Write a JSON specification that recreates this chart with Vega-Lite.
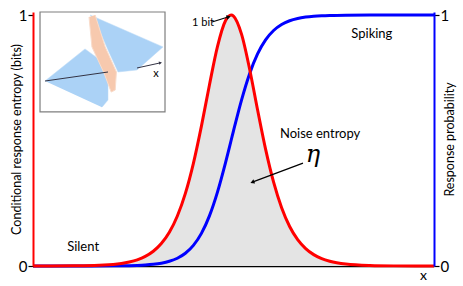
{
  "$schema": "https://vega.github.io/schema/vega-lite/v6.json",
  "width": 401,
  "height": 254,
  "autosize": {"type": "none"},
  "padding": {"left": 33, "top": 12, "right": 29, "bottom": 20},
  "background": "white",
  "config": {"view": {"stroke": null}, "font": "Lato"},
  "datasets": {
    "curves": [
      {"x": 0, "p": 0, "h": 0},
      {"x": 1, "p": 0.00004, "h": 0.0006},
      {"x": 2, "p": 0.00052, "h": 0.0064},
      {"x": 2.4, "p": 0.00146, "h": 0.0159},
      {"x": 2.6, "p": 0.00244, "h": 0.0247},
      {"x": 2.8, "p": 0.00407, "h": 0.0382},
      {"x": 3.0, "p": 0.00679, "h": 0.0587},
      {"x": 3.2, "p": 0.01129, "h": 0.0894},
      {"x": 3.4, "p": 0.01876, "h": 0.1344},
      {"x": 3.6, "p": 0.031, "h": 0.1993},
      {"x": 3.8, "p": 0.0507, "h": 0.2893},
      {"x": 4.0, "p": 0.082, "h": 0.4092},
      {"x": 4.2, "p": 0.1299, "h": 0.5573},
      {"x": 4.4, "p": 0.1997, "h": 0.7214},
      {"x": 4.6, "p": 0.2944, "h": 0.8743},
      {"x": 4.8, "p": 0.411, "h": 0.9772},
      {"x": 4.94, "p": 0.5, "h": 1.0},
      {"x": 5.0, "p": 0.5384, "h": 0.9958},
      {"x": 5.2, "p": 0.6611, "h": 0.9237},
      {"x": 5.4, "p": 0.7653, "h": 0.7861},
      {"x": 5.6, "p": 0.845, "h": 0.6223},
      {"x": 5.8, "p": 0.9011, "h": 0.4655},
      {"x": 6.0, "p": 0.9384, "h": 0.3338},
      {"x": 6.2, "p": 0.9622, "h": 0.2321},
      {"x": 6.4, "p": 0.9771, "h": 0.1575},
      {"x": 6.6, "p": 0.9862, "h": 0.1051},
      {"x": 6.8, "p": 0.99167, "h": 0.0695},
      {"x": 7.0, "p": 0.995, "h": 0.0454},
      {"x": 7.2, "p": 0.997, "h": 0.0294},
      {"x": 7.4, "p": 0.9982, "h": 0.019},
      {"x": 7.8, "p": 0.99936, "h": 0.0077},
      {"x": 8.4, "p": 0.99986, "h": 0.002},
      {"x": 9, "p": 0.99997, "h": 0.0005},
      {"x": 10, "p": 1, "h": 0}
    ],
    "inset": [
      {"part": "lower", "i": 0, "x": 0.299, "y": 0.737},
      {"part": "lower", "i": 1, "x": 1.297, "y": 0.865},
      {"part": "lower", "i": 2, "x": 1.671, "y": 0.821},
      {"part": "lower", "i": 3, "x": 1.87, "y": 0.741},
      {"part": "lower", "i": 4, "x": 1.87, "y": 0.661},
      {"part": "lower", "i": 5, "x": 1.721, "y": 0.633},
      {"part": "upper", "i": 0, "x": 1.421, "y": 1.0},
      {"part": "upper", "i": 1, "x": 3.242, "y": 0.873},
      {"part": "upper", "i": 2, "x": 2.594, "y": 0.781},
      {"part": "upper", "i": 3, "x": 2.12, "y": 0.773},
      {"part": "upper", "i": 4, "x": 1.87, "y": 0.861},
      {"part": "upper", "i": 5, "x": 1.571, "y": 0.972},
      {"part": "band", "i": 0, "x": 1.397, "y": 0.992},
      {"part": "band", "i": 1, "x": 1.47, "y": 0.873},
      {"part": "band", "i": 2, "x": 1.77, "y": 0.769},
      {"part": "band", "i": 3, "x": 1.95, "y": 0.693},
      {"part": "band", "i": 4, "x": 2.05, "y": 0.701},
      {"part": "band", "i": 5, "x": 2.08, "y": 0.773},
      {"part": "band", "i": 6, "x": 1.8, "y": 0.873},
      {"part": "band", "i": 7, "x": 1.55, "y": 1.0}
    ],
    "insetAxis": [
      {"seg": "a", "x": 0.299, "y": 0.737, "x2": 1.87, "y2": 0.773},
      {"seg": "b", "x": 2.594, "y": 0.789, "x2": 3.167, "y2": 0.809}
    ],
    "arrows": [
      {"name": "bit", "x": 4.464, "y": 0.972, "x2": 4.863, "y2": 0.992},
      {"name": "eta", "x": 6.733, "y": 0.41, "x2": 5.486, "y2": 0.335}
    ],
    "labels": [
      {"t": "Silent", "x": 1.25, "y": 0.076},
      {"t": "Spiking", "x": 8.45, "y": 0.924},
      {"t": "Noise entropy", "x": 7.16, "y": 0.526}
    ]
  },
  "resolve": {"scale": {"y": "independent"}, "axis": {"y": "independent"}},
  "layer": [
    {
      "data": {"name": "curves"},
      "mark": {"type": "area", "color": "#e4e4e4", "interpolate": "monotone"},
      "encoding": {
        "x": {"field": "x", "type": "quantitative", "scale": {"domain": [0, 10], "nice": false, "zero": false},
          "axis": {"orient": "bottom", "domainColor": "black", "domainWidth": 1.5, "ticks": false, "labels": false, "grid": false,
            "title": "x", "titleX": 390, "titleAlign": "center", "titleFontSize": 14, "titleFontWeight": "normal", "titlePadding": 2, "titleFont": "Lato", "zindex": 0}},
        "y": {"field": "h", "type": "quantitative", "scale": {"domain": [0, 1.012], "nice": false},
          "axis": {"orient": "left", "values": [0, 1], "format": "d", "domainColor": "#ff0000", "domainWidth": 2, "tickColor": "black", "tickSize": 5, "tickWidth": 1.2,
            "labelFontSize": 15, "labelColor": "black", "labelFont": "Lato", "labelPadding": 1, "grid": false, "zindex": 1,
            "title": "Conditional response entropy (bits)", "titleFontSize": 12.5, "titleFontWeight": "normal", "titleFont": "Lato", "titleColor": "black", "titlePadding": -5}}
      }
    },
    {
      "data": {"name": "curves"},
      "mark": {"type": "line", "color": "#0000ff", "strokeWidth": 3, "interpolate": "monotone"},
      "encoding": {
        "x": {"field": "x", "type": "quantitative"},
        "y": {"field": "p", "type": "quantitative", "scale": {"domain": [0, 1.012], "nice": false},
          "axis": {"orient": "right", "values": [0, 1], "format": "d", "domainColor": "#0000ff", "domainWidth": 2, "tickColor": "black", "tickSize": 5, "tickWidth": 1.2,
            "labelFontSize": 15, "labelColor": "black", "labelFont": "Lato", "labelPadding": 1, "grid": false, "zindex": 1,
            "title": "Response probability", "titleAngle": 270, "titleBaseline": "top", "titleFontSize": 12.5, "titleFontWeight": "normal", "titleFont": "Lato", "titleColor": "black", "titlePadding": -5}}
      }
    },
    {
      "data": {"name": "curves"},
      "mark": {"type": "line", "color": "#ff0000", "strokeWidth": 3, "interpolate": "monotone"},
      "encoding": {
        "x": {"field": "x", "type": "quantitative"},
        "y": {"field": "h", "type": "quantitative", "scale": {"domain": [0, 1.012], "nice": false}, "axis": null}
      }
    },
    {
      "mark": {"type": "rule", "color": "black", "strokeWidth": 1.5},
      "encoding": {
        "y": {"datum": 1.012, "type": "quantitative", "scale": {"domain": [0, 1.012], "nice": false}, "axis": null}
      }
    },
    {
      "data": {"values": [{"x": 0.175, "x2": 3.292, "y": 1.012, "y2": 0.614}]},
      "mark": {"type": "rect", "fill": "white", "stroke": "#7f7f7f", "strokeWidth": 1.2},
      "encoding": {
        "x": {"field": "x", "type": "quantitative"},
        "x2": {"field": "x2"},
        "y": {"field": "y", "type": "quantitative", "scale": {"domain": [0, 1.012], "nice": false}, "axis": null},
        "y2": {"field": "y2"}
      }
    },
    {
      "data": {"name": "inset"},
      "transform": [{"filter": "datum.part != 'band'"}],
      "mark": {"type": "line", "fill": "#abd2f6", "stroke": "#bcdaf7", "strokeWidth": 0.5, "interpolate": "linear"},
      "encoding": {
        "x": {"field": "x", "type": "quantitative"},
        "y": {"field": "y", "type": "quantitative", "scale": {"domain": [0, 1.012], "nice": false}, "axis": null},
        "detail": {"field": "part"},
        "order": {"field": "i"}
      }
    },
    {
      "data": {"name": "inset"},
      "transform": [{"filter": "datum.part == 'band'"}],
      "mark": {"type": "line", "fill": "#f7c9ae", "stroke": "#f9dccb", "strokeWidth": 1, "interpolate": "linear"},
      "encoding": {
        "x": {"field": "x", "type": "quantitative"},
        "y": {"field": "y", "type": "quantitative", "scale": {"domain": [0, 1.012], "nice": false}, "axis": null},
        "order": {"field": "i"}
      }
    },
    {
      "data": {"name": "insetAxis"},
      "mark": {"type": "rule", "color": "#333344", "strokeWidth": 1},
      "encoding": {
        "x": {"field": "x", "type": "quantitative"},
        "x2": {"field": "x2"},
        "y": {"field": "y", "type": "quantitative", "scale": {"domain": [0, 1.012], "nice": false}, "axis": null},
        "y2": {"field": "y2"}
      }
    },
    {
      "data": {"values": [{"x": 3.167, "y": 0.809}]},
      "mark": {"type": "point", "shape": "triangle", "filled": true, "color": "#333344", "size": 12, "angle": 78, "opacity": 1},
      "encoding": {
        "x": {"field": "x", "type": "quantitative"},
        "y": {"field": "y", "type": "quantitative", "scale": {"domain": [0, 1.012], "nice": false}, "axis": null}
      }
    },
    {
      "data": {"values": [{"t": "x", "x": 3.067, "y": 0.765}]},
      "mark": {"type": "text", "fontSize": 11, "font": "Lato", "color": "black"},
      "encoding": {
        "x": {"field": "x", "type": "quantitative"},
        "y": {"field": "y", "type": "quantitative", "scale": {"domain": [0, 1.012], "nice": false}, "axis": null},
        "text": {"field": "t"}
      }
    },
    {
      "data": {"name": "arrows"},
      "mark": {"type": "rule", "color": "black", "strokeWidth": 1.2},
      "encoding": {
        "x": {"field": "x", "type": "quantitative"},
        "x2": {"field": "x2"},
        "y": {"field": "y", "type": "quantitative", "scale": {"domain": [0, 1.012], "nice": false}, "axis": null},
        "y2": {"field": "y2"}
      }
    },
    {
      "data": {"values": [{"x": 4.863, "y": 0.992, "a": 73}, {"x": 5.486, "y": 0.335, "a": 249}]},
      "mark": {"type": "point", "shape": "triangle", "filled": true, "color": "black", "size": 22, "opacity": 1},
      "encoding": {
        "x": {"field": "x", "type": "quantitative"},
        "y": {"field": "y", "type": "quantitative", "scale": {"domain": [0, 1.012], "nice": false}, "axis": null},
        "angle": {"field": "a", "type": "quantitative", "scale": null}
      }
    },
    {
      "data": {"name": "labels"},
      "mark": {"type": "text", "fontSize": 13, "font": "Lato", "color": "black"},
      "encoding": {
        "x": {"field": "x", "type": "quantitative"},
        "y": {"field": "y", "type": "quantitative", "scale": {"domain": [0, 1.012], "nice": false}, "axis": null},
        "text": {"field": "t"}
      }
    },
    {
      "data": {"values": [{"t": "1 bit", "x": 4.24, "y": 0.968}]},
      "mark": {"type": "text", "fontSize": 11, "font": "Lato", "color": "black"},
      "encoding": {
        "x": {"field": "x", "type": "quantitative"},
        "y": {"field": "y", "type": "quantitative", "scale": {"domain": [0, 1.012], "nice": false}, "axis": null},
        "text": {"field": "t"}
      }
    },
    {
      "data": {"values": [{"t": "η", "x": 6.98, "y": 0.442}]},
      "mark": {"type": "text", "fontSize": 24, "font": "DejaVu Serif", "fontStyle": "italic", "color": "black"},
      "encoding": {
        "x": {"field": "x", "type": "quantitative"},
        "y": {"field": "y", "type": "quantitative", "scale": {"domain": [0, 1.012], "nice": false}, "axis": null},
        "text": {"field": "t"}
      }
    }
  ]
}
